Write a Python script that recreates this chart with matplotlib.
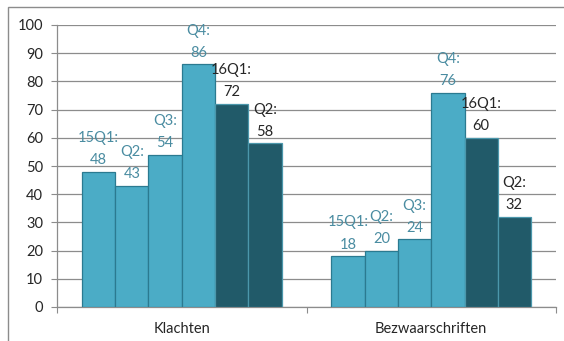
import matplotlib
matplotlib.use("Agg")
import matplotlib.pyplot as plt
from matplotlib.patches import Rectangle
import numpy as np

categories = ['Klachten', 'Bezwaarschriften']
periods = ['15Q1', 'Q2', 'Q3', 'Q4', '16Q1', 'Q2']
klachten = [48, 43, 54, 86, 72, 58]
bezwaarschriften = [18, 20, 24, 76, 60, 32]

light = '#4BACC6'
dark = '#215A69'
colors = [light] * 4 + [dark] * 2
edges = ['#2B7A90'] * 4 + ['#4B97AB'] * 2
label_colors = ['#4A8CA1'] * 4 + ['#262626'] * 2

plt.rcParams['font.family'] = ['Lato', 'DejaVu Sans']

fig = plt.figure(figsize=(5.64, 3.41), dpi=100)
ax = fig.add_axes([57 / 564, 1 - 307 / 341, (556 - 57) / 564, (307 - 25) / 341])

# outer chart frame (left and top edges only show)
fig.patches.append(Rectangle((8 / 564, -0.1), 1.2, 1 - 7 / 341 + 0.1,
                             transform=fig.transFigure, fill=False,
                             edgecolor='#8C8C8C', linewidth=1.0))

values = np.array([klachten, bezwaarschriften])
x = np.arange(len(categories)) + 0.5
width = 0.8 / len(periods)

for i, name in enumerate(periods):
    pos = x - 0.4 + width * (i + 0.5)
    ax.bar(pos, values[:, i], width=width, color=colors[i],
           edgecolor=edges[i], linewidth=0.9, zorder=3)
    for px, v in zip(pos, values[:, i]):
        ax.text(px, v + 1.6, f'{name}:\n{v}', ha='center', va='bottom',
                fontsize=10.5, color=label_colors[i], linespacing=1.75,
                zorder=4)

ax.set_xlim(0, 2)
ax.set_ylim(0, 100)
ax.set_yticks(range(0, 101, 10))
ax.set_xticks([0, 1, 2])
ax.set_xticklabels([])
ax.set_xticks(x, minor=True)
ax.set_xticklabels(categories, minor=True)
ax.tick_params(axis='x', which='minor', length=0, pad=11, labelsize=10.5,
               labelcolor='#262626')
ax.tick_params(axis='x', which='major', length=4, color='#8C8C8C')
ax.tick_params(axis='y', length=4, color='#8C8C8C', labelsize=10.5,
               labelcolor='#262626', pad=6)

ax.grid(axis='y', color='#8C8C8C', linewidth=0.9, zorder=0)
for side in ['top', 'right']:
    ax.spines[side].set_visible(False)
for side in ['left', 'bottom']:
    ax.spines[side].set_color('#8C8C8C')
    ax.spines[side].set_linewidth(0.9)

fig.savefig('out.png', dpi=100)
